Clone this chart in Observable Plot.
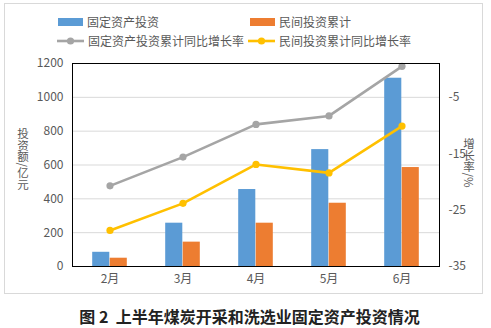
<!DOCTYPE html>
<html>
<head>
<meta charset="utf-8">
<script src="https://cdn.jsdelivr.net/npm/d3@7"></script>
<script src="https://cdn.jsdelivr.net/npm/@observablehq/plot@0.6"></script>
<style>
  body { margin: 0; background: #fff; font-family: "Noto Sans CJK SC", "Noto Sans", sans-serif; }
  #wrap { position: relative; width: 491px; height: 328px; overflow: hidden; }
  #border { position: absolute; left: 4px; top: 3px; width: 479px; height: 291px; border: 1px solid #d9d9d9; box-sizing: border-box; }
  #chart { position: absolute; left: 0; top: 0; }
  .leg { position: absolute; font-size: 12px; color: #595959; line-height: 14px; white-space: nowrap; }
  #caption { position: absolute; left: 4px; width: 491px; top: 304px; text-align: center; font-size: 16px; font-weight: bold; color: #222; white-space: pre; }
</style>
</head>
<body>
<div id="wrap">
  <div id="border"></div>
  <div id="chart"></div>
  <div id="legend"></div>
  <div id="caption">图 2  上半年煤炭开采和洗选业固定资产投资情况</div>
</div>
<script>
const months = ["2月", "3月", "4月", "5月", "6月"];
const fixedInvest = [84, 256, 455, 691, 1113];
const privateInvest = [49, 144, 256, 374, 585];
const fixedRate = [-20.7, -15.6, -9.8, -8.3, 0.5];
const privateRate = [-28.6, -23.8, -16.9, -18.4, -10.1];
const leftTicks = [0, 200, 400, 600, 800, 1000, 1200];
const rightTicks = [-35, -25, -15, -5];
const seriesNames = ["固定资产投资", "民间投资累计", "固定资产投资累计同比增长率", "民间投资累计同比增长率"];
const colors = ["#5B9BD5", "#ED7D31", "#A5A5A5", "#FFC000"];
const leftTitle = "投资额/亿元";
const rightTitle = "增长率/%";

// right axis [-35, 1] mapped onto left axis [0, 1200]
const rMin = -35, rMax = 1, lMax = 1200;
const toLeft = r => (r - rMin) * lMax / (rMax - rMin);
const fromLeft = v => v * (rMax - rMin) / lMax + rMin;

const bars = months.flatMap((m, i) => [
  {month: m, series: seriesNames[0], value: fixedInvest[i]},
  {month: m, series: seriesNames[1], value: privateInvest[i]}
]);
const lines = months.flatMap((m, i) => [
  {month: m, series: seriesNames[2], rate: fixedRate[i]},
  {month: m, series: seriesNames[3], rate: privateRate[i]}
]);

const W = 491, H = 298;
const mL = 72, mR = 52, mT = 63, mB = 32;
const band = (W - mL - mR) / months.length;
const barW = 17.5;
const half = band / 2;

const plot = Plot.plot({
  width: W, height: H,
  marginLeft: mL, marginRight: mR, marginTop: mT, marginBottom: mB,
  style: {fontFamily: '"Noto Sans CJK SC", "Noto Sans", sans-serif', fontSize: "12px", color: "#595959", background: "transparent"},
  x: {type: "band", domain: months, padding: 0, label: null},
  y: {domain: [0, lMax], label: null},
  marks: [
    Plot.ruleY(leftTicks.slice(1, -1), {stroke: "#d9d9d9", strokeWidth: 1}),
    Plot.barY(bars.filter(d => d.series === seriesNames[0]), {x: "month", y: "value", fill: colors[0], insetLeft: half - barW, insetRight: half}),
    Plot.barY(bars.filter(d => d.series === seriesNames[1]), {x: "month", y: "value", fill: colors[1], insetLeft: half, insetRight: half - barW}),
    Plot.line(lines, {x: "month", y: d => toLeft(d.rate), z: "series", stroke: d => d.series === seriesNames[2] ? colors[2] : colors[3], strokeWidth: 2.6}),
    Plot.dot(lines, {x: "month", y: d => toLeft(d.rate), fill: d => d.series === seriesNames[2] ? colors[2] : colors[3], r: 3.6}),
    Plot.frame({stroke: "#000", strokeWidth: 1}),
    Plot.axisY(leftTicks, {anchor: "left", tickSize: 0, tickPadding: 9, label: null, fill: "#595959", tickFormat: v => String(v)}),
    Plot.axisY(rightTicks.map(toLeft), {anchor: "right", tickSize: 0, tickPadding: 9, label: null, fill: "#595959", tickFormat: v => String(Math.round(fromLeft(v)))}),
    Plot.axisX({tickSize: 0, tickPadding: 8, label: null, fill: "#595959"})
  ]
});
document.getElementById("chart").appendChild(plot);

// vertical axis titles: one SVG text each, vertical writing mode
const svg = d3.select(plot.tagName.toLowerCase() === "svg" ? plot : plot.querySelector("svg"));
[[23, 128, leftTitle], [469, 138, rightTitle]].forEach(([x, y, t]) => {
  svg.append("text")
    .attr("x", x).attr("y", y)
    .attr("fill", "#595959")
    .style("writing-mode", "vertical-rl")
    .style("text-orientation", "mixed")
    .style("font-size", "11.5px")
    .attr("text-anchor", "start")
    .text(t);
});

// legend
const legend = document.getElementById("legend");
const items = [
  {x: 58, y: 22, type: "bar", i: 0},
  {x: 250, y: 22, type: "bar", i: 1},
  {x: 57, y: 41, type: "line", i: 2},
  {x: 248, y: 41, type: "line", i: 3}
];
for (const it of items) {
  const el = document.createElement("div");
  el.className = "leg";
  el.style.left = it.x + "px";
  el.style.top = (it.y - 7) + "px";
  const sw = it.type === "bar"
    ? `<svg width="26" height="14" style="vertical-align:top"><rect x="0" y="3" width="25" height="8" fill="${colors[it.i]}"/></svg>`
    : `<svg width="28" height="14" style="vertical-align:top"><line x1="0" y1="7" x2="27" y2="7" stroke="${colors[it.i]}" stroke-width="2.6"/><circle cx="13.5" cy="7" r="3.6" fill="${colors[it.i]}"/></svg>`;
  el.innerHTML = sw + `<span style="margin-left:3px">${seriesNames[it.i]}</span>`;
  legend.appendChild(el);
}
</script>
</body>
</html>
